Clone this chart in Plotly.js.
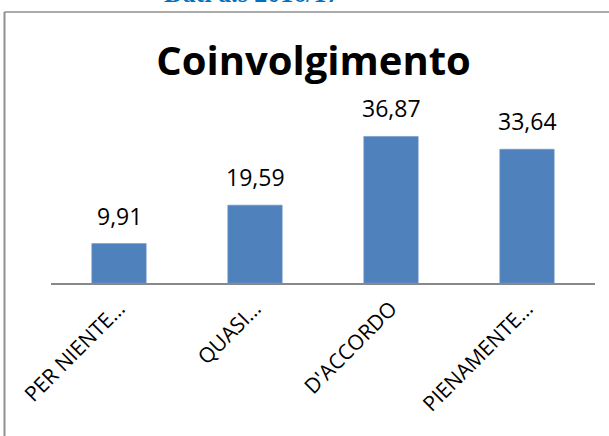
<!DOCTYPE html>
<html>
<head>
<meta charset="utf-8">
<script src="https://cdn.plot.ly/plotly-3.0.1.min.js"></script>
<style>
html,body{margin:0;padding:0;background:#fff;}
#chart{width:609px;height:436px;}
</style>
</head>
<body>
<div id="chart"></div>
<script>
const categories = ["PER NIENTE…", "QUASI…", "D'ACCORDO", "PIENAMENTE…"];
const values = [9.91, 19.59, 36.87, 33.64];
const valueLabels = ["9,91", "19,59", "36,87", "33,64"];
const chartTitle = "Coinvolgimento";
const headerText = "Dati a.s 2016/17";

const W = 609, H = 436;
const L = 51, R = 14, T = 124, B = 153;
const plotW = W - L - R, plotH = H - T - B;
const px = v => (v - L) / plotW;
const py = v => (H - B - v) / plotH;

const trace = {
  type: 'bar',
  x: categories,
  y: values,
  marker: {color: '#4F81BD', line: {color: '#6f96c8', width: 0.6}},
  hoverinfo: 'skip'
};

const valueAnnotations = categories.map((c, i) => ({
  x: c, y: values[i], xref: 'x', yref: 'y',
  text: valueLabels[i], showarrow: false,
  xanchor: 'center', yanchor: 'bottom', yshift: 10,
  font: {family: 'Open Sans', size: 23, color: '#000'}
}));

const layout = {
  width: W, height: H,
  margin: {l: L, r: R, t: T, b: B, pad: 0},
  paper_bgcolor: '#fff', plot_bgcolor: '#fff',
  showlegend: false,
  bargap: 0.6,
  title: {
    text: '<b>' + chartTitle + '</b>',
    font: {family: 'Open Sans', size: 40, color: '#000'},
    xref: 'container', yref: 'container',
    x: 313.5 / W, xanchor: 'center',
    y: 1 - 61 / H, yanchor: 'middle'
  },
  xaxis: {
    showgrid: false, zeroline: false,
    showline: true, linecolor: '#888888', linewidth: 2,
    ticks: '', tickangle: -45, ticklabelstandoff: 3,
    tickfont: {family: 'Open Sans', size: 21, color: '#000'},
    fixedrange: true
  },
  yaxis: {
    range: [0, 40], visible: false, showgrid: false, zeroline: false,
    fixedrange: true
  },
  annotations: valueAnnotations.concat([{
    xref: 'paper', yref: 'paper',
    x: px(162), y: py(10), xanchor: 'left', yanchor: 'bottom',
    text: '<b>' + headerText + '</b>', showarrow: false,
    font: {family: 'Liberation Serif', size: 26, color: '#0070C0'}
  }]),
  shapes: [
    {type: 'line', xref: 'paper', yref: 'paper', x0: px(4.5), x1: px(4.5), y0: py(12), y1: py(445),
     line: {color: '#8f8f8f', width: 2}},
    {type: 'line', xref: 'paper', yref: 'paper', x0: px(4.5), x1: px(620), y0: py(12), y1: py(12),
     line: {color: '#8f8f8f', width: 1.5}}
  ]
};

Plotly.newPlot('chart', [trace], layout, {displayModeBar: false, staticPlot: true});
</script>
</body>
</html>
